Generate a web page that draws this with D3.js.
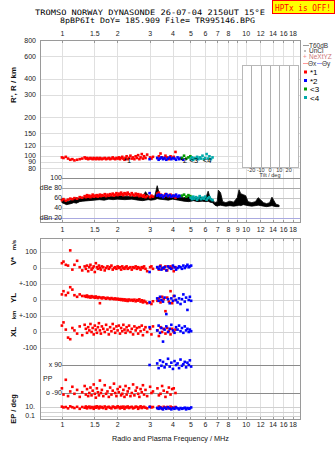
<!DOCTYPE html>
<html><head><meta charset="utf-8">
<script src="https://cdn.jsdelivr.net/npm/d3@7"></script>
<style>
body{margin:0;background:#fff;}
svg{display:block;font-family:"Liberation Sans",Arial,sans-serif;}
</style></head><body>
<svg id="c" width="335" height="451"></svg>
<script>
// ---------- data ----------
const freqTicksTop = [1,1.5,2,3,4,5,6,7,8,10,12,14,16,18];
const freqTicksMid = [1,1.5,2,3,4,5,6,7,8,9,10,12,14,16,18];
const freqGrid = [1,1.5,2,3,4,5,6,7,8,9,10,12,14,16,18];
const heightTicks = [800,600,400,300,200,150,120,100,90,80];
const ampTicks = [100,80,60,40,20];
const ampLabels = ["100","dBe 80","60","40","dBn 20"];
const tiltTicks = [-20,-10,0,10,20];

const redF = [1.00,1.02,1.05,1.08,1.11,1.14,1.17,1.21,1.25,1.29,
1.33,1.35,1.37,1.39,1.41,1.43,1.45,1.47,1.49,1.51,
1.53,1.55,1.57,1.59,1.61,1.63,1.65,1.68,1.71,1.74,
1.77,1.80,1.83,1.86,1.89,1.92,1.95,1.98,2.01,2.04,
2.07,2.10,2.13,2.16,2.19,2.22,2.25,2.28,2.32,2.36,
2.40,2.44,2.48,2.52,2.56,2.60,2.64,2.68,2.72,2.76,
2.80,2.85,2.91,3.02,3.07,3.13,3.31,3.37,3.44,3.51,
3.58,3.66,3.74,3.82,3.90,3.98,4.06,4.15];
const redH = [97,96,98,95,93,94,92,93,94,95,
97,95,96,94,95,96,95,94,96,95,
94,96,95,94,96,95,94,95,96,94,
95,96,94,95,97,95,94,96,95,97,
94,96,98,95,93,96,99,94,96,100,
95,97,94,99,96,101,94,97,103,95,
99,96,102,97,95,98,96,99,104,97,
95,100,97,94,99,96,98,107];
const redA = [55,57,54,56,58,57,59,58,61,60,
63,61,65,62,64,61,63,66,62,64,
63,65,62,64,66,63,65,64,67,63,
66,64,67,65,68,64,66,69,65,68,
66,70,67,65,69,68,66,70,67,65,
69,66,64,68,65,67,63,66,64,62,
65,61,63,61,64,62,68,70,66,64,
62,67,65,63,66,62,64,60];
const redV = [30,40,20,15,110,-10,20,45,5,-15,
10,-5,15,-20,5,20,-10,0,10,-25,
30,5,-5,15,0,-10,10,5,-15,0,
10,-5,5,15,-10,0,5,-5,10,0,
5,-10,10,0,-5,5,10,-5,0,5,
-10,5,0,10,-5,5,0,-10,5,0,
10,-5,-20,5,10,-5,5,-10,15,0,
-5,10,-15,5,10,0,-20,5];
const redYL = [35,55,30,45,80,65,30,20,35,25,
25,20,28,18,22,15,24,18,20,14,
22,16,12,18,-20,15,10,16,12,8,
14,10,6,12,8,5,10,4,8,2,
6,0,5,-2,4,-4,2,-6,3,-3,
1,-5,2,-8,0,-4,4,-10,-2,-15,
-5,-12,-20,-18,-25,-8,-5,10,-15,20,
5,-70,15,-10,55,-20,25,0];
const redXL = [40,60,15,-35,-45,25,10,-10,35,-20,
45,20,-5,30,10,50,0,25,-15,40,
15,-5,30,55,10,-10,35,20,0,45,
15,-15,30,5,50,20,-5,35,10,40,
-10,25,5,45,15,-5,30,10,40,0,
20,-15,35,10,25,-10,30,5,40,-20,
15,30,0,20,-15,35,10,-25,30,0,
20,-10,25,5,-15,20,0,15];
const redPP = [-60,-100,-5,-110,-80,-50,-95,-70,-115,-85,
-45,-100,-65,-110,-90,-55,-105,-75,-35,-95,
-120,-60,-85,-105,-10,-90,-70,-110,-40,-95,
-80,-115,-55,-100,-75,-30,-90,-110,-65,-85,
-50,-105,-95,-70,-115,-45,-100,-80,-60,-110,
-90,-35,-105,-75,-55,-95,-115,-65,-85,-40,
-100,-70,-110,-50,-90,-80,-60,-105,-95,-45,
-75,-115,-85,-55,-100,-65,-60,-90];
const redEP = [12,8,10,5,14,9,6,11,4,10,
7,13,5,9,12,6,10,8,4,11,
7,14,9,5,12,8,10,6,13,4,
9,11,7,5,12,10,6,8,14,9,
5,11,7,12,4,10,8,13,6,9,
11,5,7,12,10,4,8,14,6,9,
11,7,5,12,8,10,6,13,9,4,
11,7,10,5,12,8,6,10];

const blueF = [3.00,3.30,3.36,3.42,3.48,3.55,3.62,3.70,3.78,3.86,3.94,4.02,4.10,4.18,4.26,4.34,4.42,4.50,4.58,4.66,4.74,4.82,4.90,4.97,5.05];
const blueH = [94,96,93,95,97,94,96,93,95,97,94,96,95,93,97,94,96,95,93,null,null,null,null,null,null];
const blueA = [69,64,66,63,65,61,64,67,63,65,62,64,63,66,62,64,63,null,null,null,null,null,null,null,null];
const blueV = [-25,5,-5,10,-10,0,5,-15,10,0,-5,15,5,-10,0,10,5,-5,15,0,10,20,5,10,15];
const blueYL = [-15,10,-5,20,0,-10,15,-88,5,-20,10,-5,25,0,-15,10,-25,5,35,-10,15,-62,0,20,-5];
const blueXL = [30,10,40,-5,25,-60,15,35,0,20,45,10,-5,30,15,40,5,25,-5,35,10,20,0,15,5];
const bluePP = [90,100,70,120,85,110,75,95,130,80,105,65,115,90,100,70,125,85,95,110,75,105,90,120,80];
const blueEP = [10,6,4,8,5,3,7,4,9,5,3,6,4,8,5,3,6,4,5,7,3,6,4,5,8];

const greenF = [4.50,4.62,4.75,4.88,5.00];
const greenH = [96,100,95,97,99];
const greenA = [64,66,62,65,63];

const cyanF = [5.02,5.10,5.18,5.26,5.35,5.44,5.53,5.62,5.72,5.82,5.92,6.02,6.13,6.24,6.35,6.47,6.60];
const cyanH = [94,97,93,96,95,98,94,97,95,100,94,96,103,95,99,94,97];
const cyanA = [60,57,62,58,61,56,59,63,57,60,58,62,56,59,61,57,55];

const blackF  = [1.00,1.03,1.06,1.09,1.12,1.16,1.20,1.25,1.30,1.40,1.50,1.60,1.70,1.80,1.90,2.00,2.20,2.40,2.60,2.75,2.85,2.95,3.05,3.20,3.30,3.40,3.60,3.80,4.00,4.30,4.60,4.90,5.20,5.50,5.80,6.10,6.25,6.40,6.60,6.80,7.00,7.10,7.30,7.50,7.80,8.20,8.60,9.00,9.20,9.40,9.70,10.0,10.3,10.8,11.3,11.7,12.1,12.5,13.0,13.5,13.9,14.2,14.6,15.2];
const blackLo = [50,48,46,47,48,50,49,52,53,54,55,56,55,57,56,57,56,57,55,54,55,56,55,56,58,57,56,55,57,55,53,52,54,52,53,52,53,51,50,45,43,44,45,44,43,44,43,44,45,44,46,45,44,43,44,45,44,43,42,43,44,43,42,42];
const blackHi = [58,56,52,53,55,58,60,58,60,61,62,62,63,63,62,64,63,62,63,62,72,64,62,63,84,66,62,63,62,61,60,62,60,61,60,62,73,60,56,50,52,75,70,52,50,53,51,60,76,68,66,64,52,50,52,60,55,50,48,50,61,55,47,45];

// echo labels: [text, frequency]
const echoLabels = [["*1",2.18],["*2",4.4],["<3",4.95],["<4",5.85]];

// ---------- scales ----------
const svg = d3.select("#c");
const x = d3.scaleLog().domain([0.76, 20]).range([40, 301]);
const yH = d3.scaleLog().domain([72, 800]).range([174, 40]);
const yA = d3.scaleLinear().domain([20, 100]).range([217.6, 177.7]);
const yV = d3.scaleLinear().domain([-100, 100]).range([284, 252]);
const yYL = d3.scaleLinear().domain([-100, 100]).range([316, 284]);
const yXL = d3.scaleLinear().domain([-100, 100]).range([348, 316]);
const yPP = d3.scaleLinear().domain([-90, 90]).range([393, 365]);
const yEP = d3.scaleLog().domain([0.1, 10]).range([416, 407]);
const tilt = d3.scaleLinear().domain([-30, 30]).range([242, 298]);

const R = v => Math.round(v) + 0.5;
svg.append("rect").attr("width",335).attr("height",451).attr("fill","#fff");

// ---------- grid ----------
const grid = svg.append("g");
[[40,223],[238,420]].forEach(([a,b]) => {
  grid.selectAll(null).data(freqGrid).enter().append("line")
    .attr("x1", d=>R(x(d))).attr("x2", d=>R(x(d))).attr("y1", a).attr("y2", b)
    .attr("stroke", "#e0e0e0");
});
grid.selectAll(null).data(heightTicks.slice(1)).enter().append("line")
  .attr("x1",40).attr("x2",301).attr("y1",d=>R(yH(d))).attr("y2",d=>R(yH(d)))
  .attr("stroke","#dedede");
const ampCol = ["#8c8c8c","#a8a8a8","#c4c4c4","#cfcfcf","#a9a9e0"];
grid.selectAll(null).data(ampTicks).enter().append("line")
  .attr("x1",(d,i)=> i===4 ? 40 : 62).attr("x2",301)
  .attr("y1",d=>R(yA(d))).attr("y2",d=>R(yA(d)))
  .attr("stroke",(d,i)=>ampCol[i]);
const lowLines = [yV(100), yV(0), yV(-100), yYL(0), yYL(-100), yXL(0), yXL(-100)];
grid.selectAll(null).data(lowLines).enter().append("line")
  .attr("x1",40).attr("x2",301).attr("y1",d=>R(d)).attr("y2",d=>R(d)).attr("stroke","#d6d6d6");
grid.selectAll(null).data([90,-90]).enter().append("line")
  .attr("x1",62).attr("x2",301).attr("y1",d=>R(yPP(d))).attr("y2",d=>R(yPP(d))).attr("stroke","#8a8a8a");
grid.selectAll(null).data([10,1,0.1]).enter().append("line")
  .attr("x1",40).attr("x2",301).attr("y1",d=>R(yEP(d))).attr("y2",d=>R(yEP(d))).attr("stroke","#d0d0d0");

// tilt inset
const ins = svg.append("g");
ins.append("rect").attr("x",R(tilt(-30))).attr("y",65.5).attr("width",tilt(30)-tilt(-30)).attr("height",102)
  .attr("fill","#fff").attr("stroke","#b8b8b8");
ins.selectAll(null).data(tiltTicks).enter().append("line")
  .attr("x1",d=>R(tilt(d))).attr("x2",d=>R(tilt(d))).attr("y1",66).attr("y2",167).attr("stroke","#b0b0b0");
ins.selectAll(null).data(tiltTicks).enter().append("text")
  .attr("x",d=>tilt(d)).attr("y",172).attr("text-anchor","middle").attr("font-size",5.5).attr("fill","#333")
  .text(d=>d);
ins.append("text").attr("x",tilt(0)).attr("y",177).attr("text-anchor","middle").attr("font-size",5.5).attr("fill","#333").text("Tilt / deg");

// ---------- black amplitude trace ----------
const blk = blackF.map((f,i)=>({f, lo: blackLo[i], hi: blackHi[i]}));
svg.append("path").datum(blk)
  .attr("d", d3.area().x(d=>x(d.f)).y0(d=>yA(d.lo)).y1(d=>yA(d.hi)))
  .attr("fill","#000").attr("stroke","#000").attr("stroke-width",0.8);

// ---------- points ----------
function pts(fArr, vArr, ys, color) {
  const data = fArr.map((f,i)=>[f, vArr[i]]).filter(d=>d[1]!=null && d[1]!==undefined);
  svg.append("g").selectAll("rect").data(data).enter().append("rect")
    .attr("x", d=>x(d[0])-1.3).attr("y", d=>ys(d[1])-1.3)
    .attr("width",2.6).attr("height",2.6).attr("fill",color);
}
const RED="#ff0000", BLUE="#0000ff", GREEN="#009a00", CYAN="#00aaaa";
pts(redF, redH, yH, RED); pts(blueF, blueH, yH, BLUE); pts(greenF, greenH, yH, GREEN); pts(cyanF, cyanH, yH, CYAN);
pts(redF, redA, yA, RED); pts(blueF, blueA, yA, BLUE); pts(greenF, greenA, yA, GREEN); pts(cyanF, cyanA, yA, CYAN);
pts(redF, redV, yV, RED); pts(blueF, blueV, yV, BLUE);
pts(redF, redYL, yYL, RED); pts(blueF, blueYL, yYL, BLUE);
pts(redF, redXL, yXL, RED); pts(blueF, blueXL, yXL, BLUE);
pts(redF, redPP, yPP, RED); pts(blueF, bluePP, yPP, BLUE);
pts(redF, redEP, yEP, RED); pts(blueF, blueEP, yEP, BLUE);

// echo labels
svg.append("g").attr("font-size",7.5).attr("fill","#000")
  .selectAll("text").data(echoLabels).enter().append("text")
  .attr("x",d=>x(d[1])).attr("y",163).text(d=>d[0]);

// ---------- frames & ticks ----------
svg.append("rect").attr("x",40.5).attr("y",40.5).attr("width",260).attr("height",182).attr("fill","none").attr("stroke","#9a9a9a");
svg.append("rect").attr("x",40.5).attr("y",238.5).attr("width",260).attr("height",181).attr("fill","none").attr("stroke","#9a9a9a");
[[40,1],[238,1],[223,-1],[420,-1]].forEach(([y0,s])=>{
  svg.append("g").selectAll("line").data(freqGrid).enter().append("line")
    .attr("x1",d=>R(x(d))).attr("x2",d=>R(x(d))).attr("y1",y0).attr("y2",y0+3*s).attr("stroke","#999");
});

// ---------- axes (tick labels) ----------
function styleAxis(g){ g.select(".domain").remove(); g.selectAll("text").attr("fill","#222").attr("font-size",7); }
svg.append("g").attr("transform","translate(0,36)")
  .call(d3.axisTop(x).tickValues(freqTicksTop).tickFormat(d3.format("")).tickSize(0).tickPadding(0)).call(styleAxis);
svg.append("g").attr("transform","translate(0,231.5)")
  .call(d3.axisTop(x).tickValues(freqTicksMid).tickFormat(d3.format("")).tickSize(0).tickPadding(0)).call(styleAxis);
svg.append("g").attr("transform","translate(0,420)")
  .call(d3.axisBottom(x).tickValues(freqTicksTop).tickFormat(d3.format("")).tickSize(0).tickPadding(2.5)).call(styleAxis);
svg.append("g").attr("transform","translate(40,0)")
  .call(d3.axisLeft(yH).tickValues(heightTicks).tickFormat(d3.format("")).tickSize(0).tickPadding(4)).call(styleAxis);
svg.append("g").attr("transform","translate(62,0)")
  .call(d3.axisLeft(yA).tickValues(ampTicks).tickFormat((d,i)=>ampLabels[i]).tickSize(0).tickPadding(0)).call(styleAxis);

// lower-left labels
const lowLab = [
  [yV(100),"100",37],[yV(0),"0",37],[yV(-100),"+-100",37],
  [yYL(0),"0",37],[yYL(-100),"+-100",37],
  [yXL(0),"0",37],[yXL(-100),"-100",37],
  [yPP(90),"x 90",62],[yPP(-90),"o -90",62],
  [yEP(10),"10.",35],[yEP(0.1),"0.1",35]
];
svg.append("g").selectAll("text").data(lowLab).enter().append("text")
  .attr("x",d=>d[2]).attr("y",d=>d[0]).attr("dy","0.33em").attr("text-anchor","end")
  .attr("font-size",7).attr("fill","#222").text(d=>d[1]);
svg.append("text").attr("x",43).attr("y",381).attr("font-size",7).attr("fill","#222").text("PP");

// y titles
function vt(txt, cx, cy, fs, w){
  svg.append("text").attr("transform",`translate(${cx},${cy}) rotate(-90)`)
    .attr("text-anchor","middle").attr("font-size",fs).attr("font-weight",w||"bold").attr("fill","#111").text(txt);
}
vt("R', R / km", 16, 85, 8);
vt("V*", 16, 261, 8);
vt("m/s", 16, 245, 6);
vt("YL", 16, 298, 8);
vt("km", 16, 315, 6);
vt("XL", 16, 332, 8);
vt("EP / deg", 16, 409, 7.5);

// x title
svg.append("text").attr("x",112).attr("y",441).attr("font-size",8).attr("fill","#111")
  .attr("textLength",117).attr("lengthAdjust","spacingAndGlyphs").text("Radio and Plasma Frequency / MHz");

// ---------- header ----------
svg.append("text").attr("x",35).attr("y",14.5).attr("font-family","DejaVu Sans Mono, monospace").attr("font-size",7.5)
  .attr("textLength",230).attr("lengthAdjust","spacingAndGlyphs").attr("fill","#000")
  .text("TROMSO NORWAY   DYNASONDE 26-07-04 2150UT 15°E");
svg.append("text").attr("x",60).attr("y",23).attr("font-family","DejaVu Sans Mono, monospace").attr("font-size",7.5)
  .attr("textLength",195).attr("lengthAdjust","spacingAndGlyphs").attr("fill","#000")
  .text("8pBP6It DoY= 185.909 File= TR995146.BPG");
svg.append("rect").attr("x",272.5).attr("y",0.5).attr("width",62).attr("height",13).attr("fill","#ffff00").attr("stroke","#ff0000");
svg.append("text").attr("x",275).attr("y",10.5).attr("font-family","DejaVu Sans Mono, monospace").attr("font-size",8.5)
  .attr("textLength",56).attr("lengthAdjust","spacingAndGlyphs").attr("fill","#ff0000").text("HPTx is OFF!");

// ---------- legend ----------
const lg = svg.append("g").attr("font-size",6.5).attr("fill","#333");
lg.append("line").attr("x1",303).attr("x2",309).attr("y1",45.5).attr("y2",45.5).attr("stroke","#999");
lg.append("text").attr("x",309).attr("y",47.5).text("T60dB");
lg.append("rect").attr("x",304.5).attr("y",50.5).attr("width",1).attr("height",1).attr("fill","#000");
lg.append("text").attr("x",309).attr("y",53).text("UnCl");
lg.append("text").attr("x",303).attr("y",59).attr("fill","#e88").text("+");
lg.append("text").attr("x",309).attr("y",59).attr("fill","#c77").text("NeXtYZ");
lg.append("line").attr("x1",303).attr("x2",308).attr("y1",63.5).attr("y2",63.5).attr("stroke","#f99");
lg.append("text").attr("x",308).attr("y",65.5).text("Θx");
lg.append("line").attr("x1",317).attr("x2",322).attr("y1",63.5).attr("y2",63.5).attr("stroke","#99f");
lg.append("text").attr("x",322).attr("y",65.5).text("Θy");
const leg = [[RED,"*1",72.5],[BLUE,"*2",81],[GREEN,"<3",89.5],[CYAN,"<4",98]];
leg.forEach(([c,t,y])=>{
  lg.append("rect").attr("x",304).attr("y",y-2).attr("width",3).attr("height",3).attr("fill",c);
  lg.append("text").attr("x",310).attr("y",y+2.5).attr("font-size",8).attr("fill","#000").text(t);
});
</script>
</body></html>
